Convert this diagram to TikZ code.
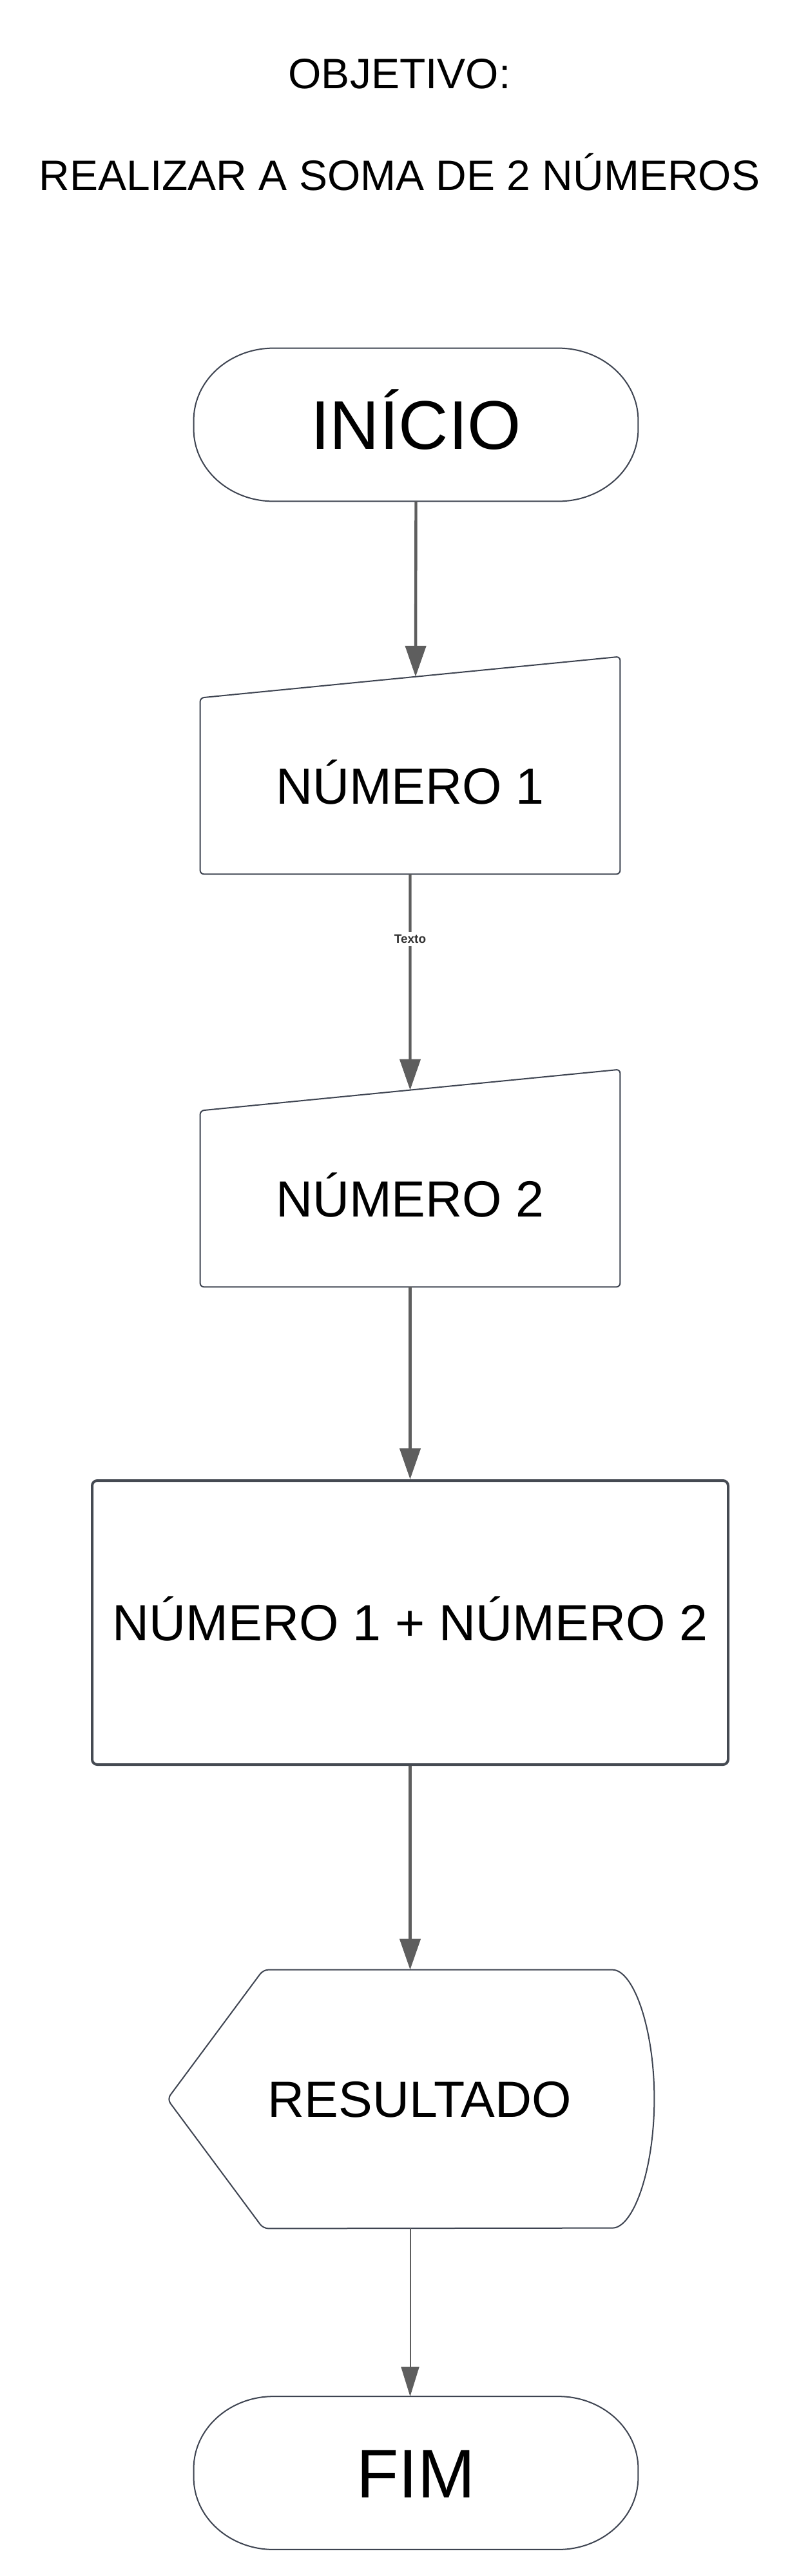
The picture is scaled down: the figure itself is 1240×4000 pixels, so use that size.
\documentclass[tikz,border=0pt]{standalone}
\usepackage{fontspec}
\setmainfont{Liberation Sans}
\usetikzlibrary{arrows.meta,calc}
\definecolor{edgec}{HTML}{3E4451}
\definecolor{procc}{HTML}{454A52}
\definecolor{arrc}{HTML}{5E5E5E}
\definecolor{lblc}{HTML}{333333}
\tikzset{
  titletext/.style={inner sep=0pt, font=\fontsize{33pt}{36pt}\selectfont, text height=23.6pt, text depth=0pt},
  termnode/.style={inner sep=0pt, minimum width=344.5pt, minimum height=118.5pt, font=\fontsize{53.5pt}{56pt}\selectfont, text height=38.3pt, text depth=0pt},
  boxnode/.style={inner sep=0pt, font=\fontsize{39.5pt}{42pt}\selectfont, text height=28.3pt, text depth=0pt},
  shapeline/.style={draw=edgec, line width=1pt, line join=round},
  flowarrow/.style={draw=arrc, line width=2.2pt, -{Triangle[length=24pt, width=16pt]}, arrc},
  thinarrow/.style={draw=arrc, line width=1pt, -{Triangle[length=23pt, width=14pt]}, arrc},
  edgelabel/.style={fill=white, inner sep=2pt, text=lblc, font=\fontsize{9.5pt}{11pt}\selectfont\bfseries}
}
\begin{document}
\begin{tikzpicture}[x=0.5pt, y=0.5pt]
\useasboundingbox[fill=white] (0,0) rectangle (1240,-4000);

% titles
\node[titletext] (t1) at (620,-114) {OBJETIVO:};
\node[titletext] (t2) at (620,-272) {REALIZAR A SOMA DE 2 NÚMEROS};

% start terminal
\node[termnode] (inicio) at (645.5,-659.5) {INÍCIO};
\draw[shapeline] ([xshift=62pt]inicio.north west) -- ([xshift=-62pt]inicio.north east)
  arc[start angle=90, end angle=0, x radius=62pt, y radius=56pt]
  -- ([yshift=56pt]inicio.south east)
  arc[start angle=0, end angle=-90, x radius=62pt, y radius=56pt]
  -- ([xshift=62pt]inicio.south west)
  arc[start angle=270, end angle=180, x radius=62pt, y radius=56pt]
  -- ([yshift=-56pt]inicio.north west)
  arc[start angle=180, end angle=90, x radius=62pt, y radius=56pt] -- cycle;

% manual input 1
\node[boxnode, minimum width=325.5pt, minimum height=136.5pt] (n1) at (636.5,-1220.5) {NÚMERO 1};
\draw[shapeline, rounded corners=3pt] (n1.north west) -- ([yshift=32pt]n1.north east) -- (n1.south east) -- (n1.south west) -- cycle;
\coordinate (n1top) at ($(n1.north west)!0.513!([yshift=32pt]n1.north east)$);

% manual input 2
\node[boxnode, minimum width=325.5pt, minimum height=136.5pt] (n2) at (636.5,-1861.5) {NÚMERO 2};
\draw[shapeline, rounded corners=3pt] (n2.north west) -- ([yshift=32pt]n2.north east) -- (n2.south east) -- (n2.south west) -- cycle;
\coordinate (n2top) at ($(n2.north west)!0.5!([yshift=32pt]n2.north east)$);

% process
\node[boxnode, minimum width=493.5pt, minimum height=220.5pt, draw=procc, line width=2pt, rounded corners=4pt] (proc) at (636.5,-2519.5) {NÚMERO 1 + NÚMERO 2};

% display
\node[boxnode, minimum width=377.5pt, minimum height=200.5pt] (disp) at (637.5,-3259.5) {\hspace*{14pt}RESULTADO};
\draw[shapeline, rounded corners=4pt] (disp.west) -- ([xshift=74.5pt]disp.north west) -- ([xshift=-36.5pt]disp.north east)
  arc[start angle=90, end angle=-90, x radius=36.5pt, y radius=100.25pt]
  -- ([xshift=74.5pt]disp.south west) -- cycle;

% end terminal
\node[termnode] (fim) at (645.5,-3840) {FIM};
\draw[shapeline] ([xshift=62pt]fim.north west) -- ([xshift=-62pt]fim.north east)
  arc[start angle=90, end angle=0, x radius=62pt, y radius=56pt]
  -- ([yshift=56pt]fim.south east)
  arc[start angle=0, end angle=-90, x radius=62pt, y radius=56pt]
  -- ([xshift=62pt]fim.south west)
  arc[start angle=270, end angle=180, x radius=62pt, y radius=56pt]
  -- ([yshift=-56pt]fim.north west)
  arc[start angle=180, end angle=90, x radius=62pt, y radius=56pt] -- cycle;

% connectors
\draw[flowarrow] (inicio.south) -- (n1top);
\draw[flowarrow] (n1.south) -- node[pos=0.3, edgelabel] {Texto} (n2top);
\draw[flowarrow] (n2.south) -- (proc.north);
\draw[flowarrow] (proc.south) -- (disp.north -| proc.south);
\draw[thinarrow] (disp.south -| proc.south) -- (fim.north -| proc.south);
\end{tikzpicture}
\end{document}
